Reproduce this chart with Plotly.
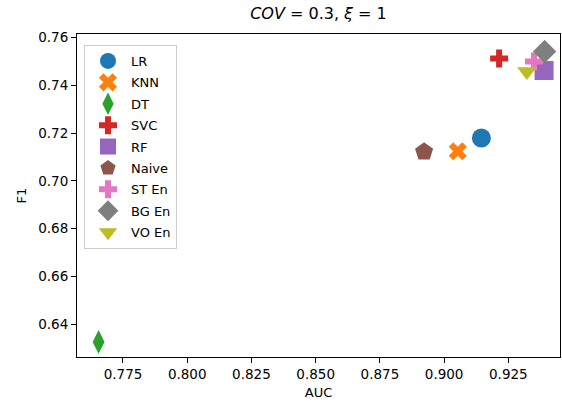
import plotly.graph_objects as go

models = ["LR", "KNN", "DT", "SVC", "RF", "Naive", "ST En", "BG En", "VO En"]
auc = [0.9145, 0.9053, 0.7655, 0.9214, 0.9389, 0.8922, 0.9350, 0.9391, 0.9322]
f1 = [0.7180, 0.7124, 0.6326, 0.7512, 0.7462, 0.7122, 0.7500, 0.7542, 0.7458]

x_ticks = [0.775, 0.800, 0.825, 0.850, 0.875, 0.900, 0.925]
y_ticks = [0.64, 0.66, 0.68, 0.70, 0.72, 0.74, 0.76]

colors = ["#1f77b4", "#ff7f0e", "#2ca02c", "#d62728", "#9467bd",
          "#8c564b", "#e377c2", "#7f7f7f", "#bcbd22"]
symbols = ["circle", "x", "diamond-tall", "cross", "square",
           "pentagon", "cross", "diamond", "triangle-down"]
sizes = [19, 16, 17, 15, 19, 19, 15, 18, 17]

fig = go.Figure()
for i, m in enumerate(models):
    fig.add_trace(go.Scatter(
        x=[auc[i]], y=[f1[i]], mode="markers", name=m, legendgroup=m,
        marker=dict(color=colors[i], symbol=symbols[i], size=sizes[i],
                    line=dict(width=0)),
    ))

font = "DejaVu Sans"
fig.update_layout(
    width=562, height=403,
    margin=dict(l=77, r=2, t=34, b=46),
    paper_bgcolor="white", plot_bgcolor="white",
    font=dict(family=font, size=13, color="black"),
    title=dict(text="<i>COV</i> = 0.3, <i>ξ</i> = 1", x=(77 + 560) / 2 / 562,
               xanchor="center", y=1 - 13 / 403, yanchor="middle",
               font=dict(size=16, family=font, color="black")),
    legend=dict(x=0.0145, y=0.966, xanchor="left", yanchor="top",
                bordercolor="#cccccc", borderwidth=1, bgcolor="white",
                font=dict(size=13, family=font), itemsizing="trace",
                itemwidth=36, tracegroupgap=1.5),
    showlegend=True,
)
fig.update_xaxes(
    range=[0.7571, 0.9451], tickvals=x_ticks, tickformat=".3f",
    tickfont=dict(size=13.5),
    showline=True, mirror=True, linecolor="black", linewidth=1,
    ticks="outside", ticklen=5, tickcolor="black", showgrid=False, zeroline=False,
    title=dict(text="AUC", font=dict(size=13), standoff=6),
)
fig.update_yaxes(
    range=[0.6263, 0.7615], tickvals=y_ticks, tickformat=".2f",
    tickfont=dict(size=13.5),
    showline=True, mirror=True, linecolor="black", linewidth=1,
    ticks="outside", ticklen=5, tickcolor="black", showgrid=False, zeroline=False,
    title=dict(text="F1", font=dict(size=13), standoff=8),
)

fig.write_html("out.html", config={"displayModeBar": False},
               post_script="document.body.style.margin='0';document.body.style.padding='0';")
